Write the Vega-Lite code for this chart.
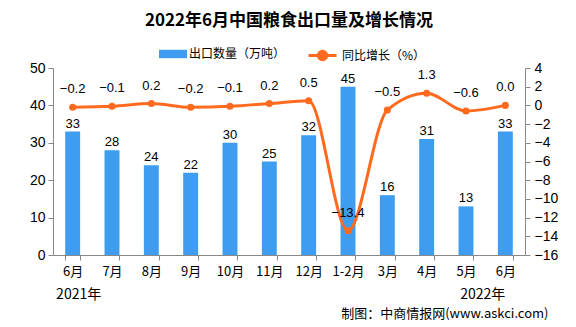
{
  "$schema": "https://vega.github.io/schema/vega-lite/v6.json",
  "width": 472,
  "height": 187,
  "autosize": {"type": "none"},
  "padding": {"left": 53, "top": 68, "right": 51, "bottom": 72},
  "background": "white",
  "title": {
    "text": "2022年6月中国粮食出口量及增长情况",
    "font": "Noto Sans CJK SC",
    "fontSize": 17,
    "fontWeight": "bold",
    "color": "#000000",
    "anchor": "middle",
    "frame": "group",
    "offset": 10
  },
  "config": {"view": {"stroke": null}},
  "data": {
    "values": [
      {"k": "2021年6月", "export": 33, "growth": -0.2, "year": "2021年"},
      {"k": "2021年7月", "export": 28, "growth": -0.1, "year": ""},
      {"k": "2021年8月", "export": 24, "growth": 0.2, "year": ""},
      {"k": "2021年9月", "export": 22, "growth": -0.2, "year": ""},
      {"k": "2021年10月", "export": 30, "growth": -0.1, "year": ""},
      {"k": "2021年11月", "export": 25, "growth": 0.2, "year": ""},
      {"k": "2021年12月", "export": 32, "growth": 0.5, "year": ""},
      {"k": "2022年1-2月", "export": 45, "growth": -13.4, "year": ""},
      {"k": "2022年3月", "export": 16, "growth": -0.5, "year": ""},
      {"k": "2022年4月", "export": 31, "growth": 1.3, "year": ""},
      {"k": "2022年5月", "export": 13, "growth": -0.6, "year": ""},
      {"k": "2022年6月", "export": 33, "growth": 0.0, "year": "2022年"}
    ]
  },
  "encoding": {
    "x": {
      "field": "k",
      "type": "nominal",
      "sort": null,
      "title": "制图：中商情报网(www.askci.com)",
      "scale": {"paddingInner": 0.62, "paddingOuter": 0.31},
      "axis": {
        "labelExpr": "substring(datum.label, 5)",
        "labelAngle": 0,
        "tickBand": "extent",
        "domainColor": "#888888",
        "tickColor": "#888888",
        "tickSize": 5,
        "labelPadding": 5,
        "labelFont": "Noto Sans CJK SC",
        "labelFontSize": 13,
        "labelColor": "#000000",
        "titleX": 495,
        "titleY": 58,
        "titleAlign": "right",
        "titleBaseline": "middle",
        "titleFont": "Noto Sans CJK SC",
        "titleFontSize": 13,
        "titleFontWeight": "normal",
        "titleColor": "#000000"
      }
    }
  },
  "layer": [
    {
      "encoding": {
        "y": {
          "field": "export",
          "type": "quantitative",
          "scale": {"domain": [0, 50], "nice": false},
          "axis": {
            "orient": "left",
            "title": null,
            "grid": false,
            "values": [0, 10, 20, 30, 40, 50],
            "domainColor": "#888888",
            "tickColor": "#888888",
            "tickSize": 5,
            "labelPadding": 3,
            "labelFont": "Liberation Sans",
            "labelFontSize": 14,
            "labelColor": "#000000"
          }
        }
      },
      "layer": [
        {
          "mark": {"type": "bar"},
          "encoding": {
            "color": {
              "datum": "出口数量（万吨）",
              "scale": {"range": ["#3E9DF0"]},
              "legend": {
                "orient": "none",
                "legendX": 106,
                "legendY": -28,
                "title": null,
                "padding": 0,
                "symbolType": "M-1,-0.3H1V0.3H-1Z",
                "symbolSize": 784,
                "symbolStrokeWidth": 0,
                "labelFont": "Noto Sans CJK SC",
                "labelFontSize": 12,
                "labelColor": "#000000",
                "labelOffset": 2
              }
            }
          }
        },
        {
          "mark": {"type": "text", "baseline": "bottom", "dy": -1, "font": "Liberation Sans", "fontSize": 13, "color": "#000000"},
          "encoding": {"text": {"field": "export", "type": "quantitative"}}
        },
        {
          "transform": [{"filter": "datum.year == '2021年'"}],
          "mark": {"type": "text", "baseline": "middle", "align": "center", "dx": 6, "font": "Noto Sans CJK SC", "fontSize": 14, "color": "#000000"},
          "encoding": {"y": {"datum": -10.7}, "text": {"field": "year"}}
        },
        {
          "transform": [{"filter": "datum.year == '2022年'"}],
          "mark": {"type": "text", "baseline": "middle", "align": "right", "dx": 0, "font": "Noto Sans CJK SC", "fontSize": 14, "color": "#000000"},
          "encoding": {"y": {"datum": -10.7}, "text": {"field": "year"}}
        }
      ]
    },
    {
      "encoding": {
        "y": {
          "field": "growth",
          "type": "quantitative",
          "scale": {"domain": [-16, 4], "nice": false},
          "axis": {
            "orient": "right",
            "title": null,
            "grid": false,
            "values": [-16, -14, -12, -10, -8, -6, -4, -2, 0, 2, 4],
            "domainColor": "#888888",
            "tickColor": "#888888",
            "tickSize": 5,
            "labelPadding": 4,
            "labelFont": "Liberation Sans",
            "labelFontSize": 14,
            "labelColor": "#000000"
          }
        }
      },
      "layer": [
        {
          "mark": {"type": "line", "interpolate": "monotone", "strokeWidth": 3},
          "encoding": {
            "stroke": {
              "datum": "同比增长（%）",
              "scale": {"range": ["#FF6A1F"]},
              "legend": {
                "orient": "none",
                "legendX": 254,
                "legendY": -28,
                "title": null,
                "padding": 0,
                "symbolType": "M-1,0H1M-0.3,0A0.3,0.3,0,1,0,0.3,0A0.3,0.3,0,1,0,-0.3,0Z",
                "symbolSize": 784,
                "symbolStrokeWidth": 3,
                "labelFont": "Noto Sans CJK SC",
                "labelFontSize": 12,
                "labelColor": "#000000",
                "labelOffset": 4,
                "encode": {"symbols": {"update": {"fill": {"value": "#FF6A1F"}, "stroke": {"value": "#FF6A1F"}}}}
              }
            }
          }
        },
        {
          "mark": {"type": "point", "filled": true, "size": 50, "color": "#FF6A1F", "opacity": 1}
        },
        {
          "mark": {"type": "text", "baseline": "bottom", "dy": -11, "font": "Liberation Sans", "fontSize": 13, "color": "#000000"},
          "encoding": {"text": {"field": "growth", "type": "quantitative", "format": ".1f"}}
        }
      ]
    }
  ],
  "resolve": {"scale": {"y": "independent"}}
}
